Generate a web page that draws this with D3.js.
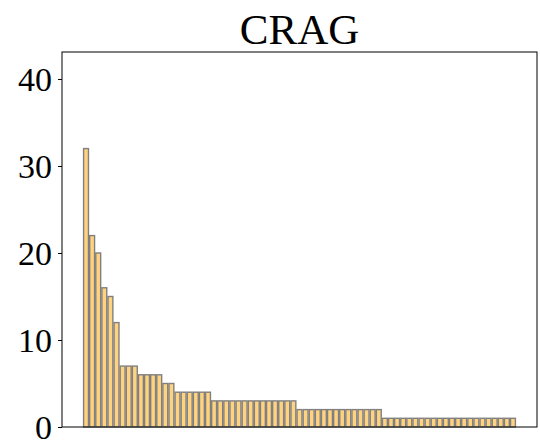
<!DOCTYPE html>
<html>
<head>
<meta charset="utf-8">
<script src="https://cdn.jsdelivr.net/npm/d3@7"></script>
<style>
  body { margin: 0; background: #fff; }
  svg { display: block; }
</style>
</head>
<body>
<div id="chart"></div>
<script>
// values, sorted high to low
const counts = [32, 22, 20, 16, 15, 12,
  7, 7, 7,
  6, 6, 6, 6,
  5, 5,
  4, 4, 4, 4, 4, 4,
  3, 3, 3, 3, 3, 3, 3, 3, 3, 3, 3, 3, 3, 3,
  2, 2, 2, 2, 2, 2, 2, 2, 2, 2, 2, 2, 2, 2,
  1, 1, 1, 1, 1, 1, 1, 1, 1, 1, 1, 1, 1, 1, 1, 1, 1, 1, 1, 1, 1, 1];
const yTicks = [0, 10, 20, 30, 40];
const title = "CRAG";

const width = 540, height = 444;
const margin = {top: 52, right: 3, bottom: 17, left: 62};
const w = width - margin.left - margin.right;
const h = height - margin.top - margin.bottom;

const svg = d3.select("#chart").append("svg")
  .attr("width", width).attr("height", height);
const g = svg.append("g").attr("transform", `translate(${margin.left},${margin.top})`);

// matplotlib-like: bars of width 0.8, 5% margins
const n = counts.length;
const span = (n - 1) + 0.8;
const pad = span * 0.05;
const x = d3.scaleLinear().domain([-0.4 - pad, n - 1 + 0.4 + pad]).range([0, w]);
const y = d3.scaleLinear().domain([0, 43.1]).range([h, 0]);

g.selectAll("rect.bar")
  .data(counts)
  .join("rect")
    .attr("class", "bar")
    .attr("x", (d, i) => x(i - 0.4))
    .attr("width", x(0.8) - x(0))
    .attr("y", d => y(d))
    .attr("height", d => y(0) - y(d))
    .attr("fill", "#ffd280")
    .attr("stroke", "#808080")
    .attr("stroke-width", 1.4);

// y axis
const yAxis = g.append("g")
  .call(d3.axisLeft(y).tickValues(yTicks).tickSize(4).tickPadding(6));
yAxis.select(".domain").remove();
yAxis.selectAll("line").attr("stroke", "#000").attr("stroke-width", 1);
yAxis.selectAll("text")
  .attr("font-family", "'Liberation Serif', 'Times New Roman', serif")
  .attr("font-size", 34)
  .attr("fill", "#000")
  .attr("dy", "0.35em");

// frame
g.append("rect")
  .attr("width", w).attr("height", h)
  .attr("fill", "none")
  .attr("stroke", "#000")
  .attr("stroke-width", 1);

// title
svg.append("text")
  .attr("x", margin.left + w / 2)
  .attr("y", 44)
  .attr("text-anchor", "middle")
  .attr("font-family", "'Liberation Serif', 'Times New Roman', serif")
  .attr("font-size", 43)
  .attr("fill", "#000")
  .text(title);
</script>
</body>
</html>
